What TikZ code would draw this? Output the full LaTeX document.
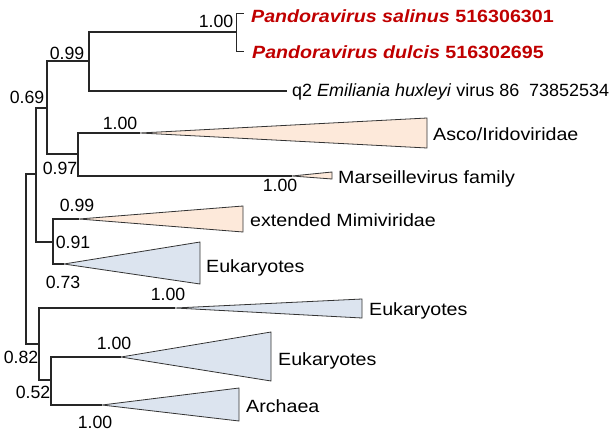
\documentclass[tikz,border=0pt]{standalone}
\usepackage{fontspec}
\setmainfont{Liberation Sans}
\newfontfamily\widefam{Liberation Sans}[FakeStretch=1.11]
\newfontfamily\qfam{Liberation Sans}[FakeStretch=1.015]
\definecolor{pred}{RGB}{192,0,0}
\definecolor{peach}{RGB}{253,233,218}
\definecolor{lblue}{RGB}{220,228,239}
\begin{document}
\begin{tikzpicture}[x=1pt,y=-1pt,
  branch/.style={line width=1.2pt, draw=black!85},
  clade/.style={draw=black!80, line width=0.8pt, line join=miter},
  supp/.style={inner sep=0pt, anchor=center, font=\fontsize{17.7}{20}\selectfont},
  lab/.style={inner sep=0pt, anchor=base west, font=\widefam\fontsize{17.7}{20}\selectfont},
  qlab/.style={inner sep=0pt, anchor=base west, font=\qfam\fontsize{17.7}{20}\selectfont}]
\useasboundingbox (0,0) rectangle (614,431);

% internal nodes (join points)
\coordinate (root) at (26,259);
\coordinate (A) at (36,174);
\coordinate (B) at (47,108);
\coordinate (C) at (89,61);
\coordinate (D) at (236,32);
\coordinate (E) at (78,154);
\coordinate (F) at (53,242);
\coordinate (G) at (39,344);
\coordinate (H) at (51,380);
% tips / clade apexes
\coordinate (p1) at (244,13);
\coordinate (p2) at (244,51);
\coordinate (q2) at (287,91);
\coordinate (ascoA) at (140,133);
\coordinate (marsA) at (292,176);
\coordinate (mimiA) at (79,219);
\coordinate (eukaA) at (64,264);
\coordinate (eukbA) at (175,308);
\coordinate (eukcA) at (121,357);
\coordinate (archA) at (102,405);

% clade triangles
\draw[clade, fill=peach] (ascoA) -- (427,118) -- (427,148) -- cycle;
\draw[clade, fill=peach] (marsA) -- (332,172) -- (332,179) -- cycle;
\draw[clade, fill=peach] (mimiA) -- (243,206) -- (243,232) -- cycle;
\draw[clade, fill=lblue] (eukaA) -- (200,242) -- (200,284) -- cycle;
\draw[clade, fill=lblue] (eukbA) -- (362,299) -- (362,318) -- cycle;
\draw[clade, fill=lblue] (eukcA) -- (271,332) -- (271,381) -- cycle;
\draw[clade, fill=lblue] (archA) -- (239,388) -- (239,421) -- cycle;

% branches
\draw[branch] (root) |- (A);
\draw[branch] (root) |- (G);
\draw[branch] (A) |- (B);
\draw[branch] (A) |- (F);
\draw[branch] (B) |- (C);
\draw[branch] (B) |- (E);
\draw[branch] (C) |- (D);
\draw[branch] (C) |- (q2);
\draw[branch, line width=0.9pt] (D) |- (p1);
\draw[branch, line width=0.9pt] (D) |- (p2);
\draw[branch] (E) |- (ascoA);
\draw[branch] (E) |- (marsA);
\draw[branch] (F) |- (mimiA);
\draw[branch] (F) |- (eukaA);
\draw[branch] (G) |- (eukbA);
\draw[branch] (G) |- (H);
\draw[branch] (H) |- (eukcA);
\draw[branch] (H) |- (archA);

% tip labels
\node[lab, text=pred] (lp1) at (251,22.7) {\bfseries\itshape Pandoravirus salinus \upshape516306301};
\node[lab, text=pred] (lp2) at (252,58.7) {\bfseries\itshape Pandoravirus dulcis \upshape516302695};
\node[qlab] (lq2) at (292,96) {q2 \textit{Emiliania huxleyi} virus 86\ \ 73852534};
\node[lab] (lasco) at (433,140) {Asco/Iridoviridae};
\node[lab] (lmars) at (338,183.3) {Marseillevirus family};
\node[lab] (lmimi) at (250,226.7) {extended Mimiviridae};
\node[lab] (leuka) at (206,272.3) {Eukaryotes};
\node[lab] (leukb) at (369,315.7) {Eukaryotes};
\node[lab] (leukc) at (278,365) {Eukaryotes};
\node[lab] (larch) at (246,412.7) {Archaea};

% support values
\node[supp] (sD) at (216,21) {1.00};
\node[supp] (sC) at (67,53.5) {0.99};
\node[supp] (sB) at (27,97) {0.69};
\node[supp] (sAsco) at (120,123) {1.00};
\node[supp] (sE) at (60,168) {0.97};
\node[supp] (sMars) at (280,185.5) {1.00};
\node[supp] (sMimi) at (77,205) {0.99};
\node[supp] (sF) at (73,242) {0.91};
\node[supp] (sA) at (63,282.5) {0.73};
\node[supp] (sEuka) at (168,294) {1.00};
\node[supp] (sEukc) at (114,343) {1.00};
\node[supp] (sG) at (21,357) {0.82};
\node[supp] (sH) at (33,392) {0.52};
\node[supp] (sArch) at (95,422) {1.00};
\end{tikzpicture}
\end{document}
